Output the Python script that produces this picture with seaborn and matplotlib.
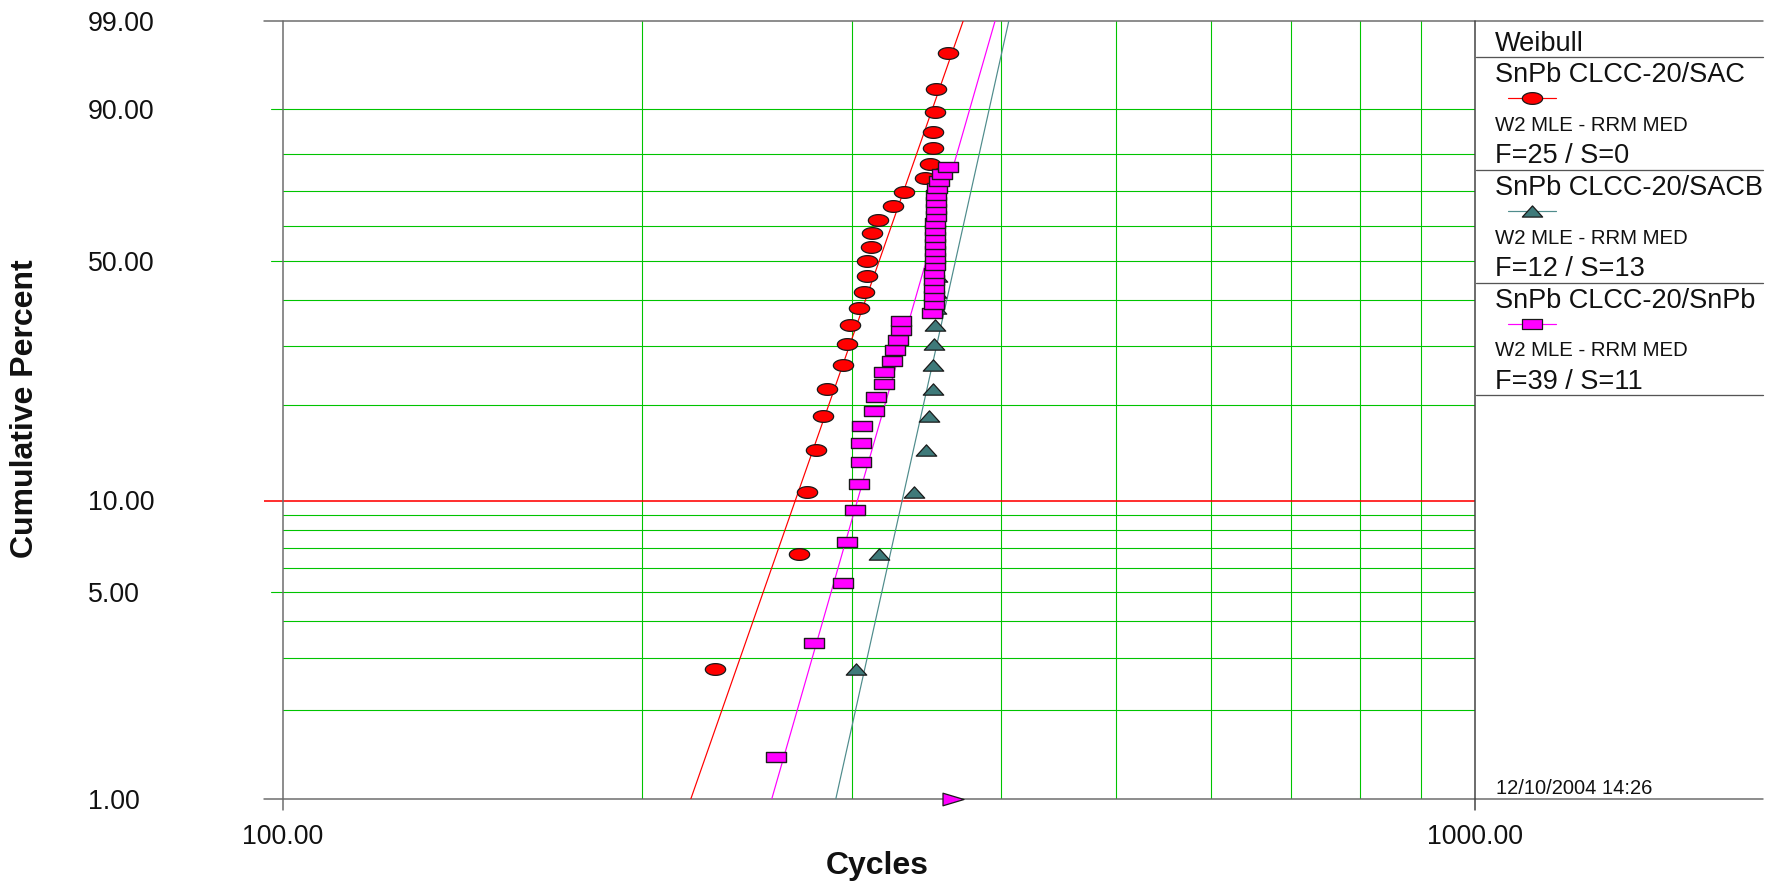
import numpy as np
import matplotlib
matplotlib.use("Agg")
import matplotlib.pyplot as plt
from matplotlib.path import Path
from matplotlib.transforms import blended_transform_factory, offset_copy
import seaborn as sns

# ---------------- data ----------------
sac_cycles = [230.1, 271.1, 275.0, 279.8, 283.9, 286.0, 295.1, 297.1, 299.1, 304.1,
              307.0, 309.1, 309.0, 311.2, 312.1, 315.2, 325.0, 331.8, 345.6, 348.9,
              351.1, 350.9, 352.1, 353.2, 361.0]
sac_pct = [2.76, 6.69, 10.63, 14.57, 18.50, 22.44, 26.38, 30.31, 34.25, 38.19,
           42.13, 46.06, 50.00, 53.94, 57.87, 61.81, 65.75, 69.69, 73.62, 77.56,
           81.50, 85.43, 89.37, 93.31, 97.24]

sacb_cycles = [302.3, 316.3, 338.0, 346.0, 348.3, 350.9, 351.1, 351.8, 352.4, 352.6,
               353.0, 353.4]
sacb_pct = [2.76, 6.69, 10.63, 14.57, 18.50, 22.44, 26.38, 30.31, 34.25, 38.19,
            42.13, 46.06]

snpb_cycles = [259.2, 278.9, 295.1, 297.1, 302.0, 304.2, 305.2, 305.2, 306.1, 313.2,
               314.2, 319.3, 319.3, 324.0, 326.1, 328.2, 329.9, 329.9, 350.0, 351.3,
               351.3, 351.3, 351.3, 351.3, 352.1, 352.3, 352.3, 352.3, 352.3, 352.3,
               352.5, 353.0, 353.0, 353.0, 353.2, 353.7, 354.8, 357.1, 361.0]
snpb_pct = [1.39, 3.37, 5.36, 7.34, 9.33, 11.31, 13.29, 15.28, 17.26, 19.25,
            21.23, 23.21, 25.20, 27.18, 29.17, 31.15, 33.13, 35.12, 37.10, 39.09,
            41.07, 43.06, 45.04, 47.02, 49.01, 50.99, 52.98, 54.96, 56.94, 58.93,
            60.91, 62.90, 64.88, 66.87, 68.85, 70.83, 72.82, 74.80, 76.79]
snpb_susp_cycles = [365.0]
snpb_susp_pct = [1.0]

# Weibull fits (eta, beta)
fit_names = ["SnPb CLCC-20/SAC", "SnPb CLCC-20/SACB", "SnPb CLCC-20/SnPb"]
fit_eta = [326.2, 373.7, 355.2]
fit_beta = [11.65, 18.34, 14.21]
fit_counts = ["F=25 / S=0", "F=12 / S=13", "F=39 / S=11"]
fit_method = "W2 MLE - RRM MED"

y_label_ticks = [1, 5, 10, 50, 90, 99]
y_tick_labels = ["1.00", "5.00", "10.00", "50.00", "90.00", "99.00"]
y_minor_grid = [2, 3, 4, 6, 7, 8, 9, 20, 30, 40, 60, 70, 80]
y_major_grid = [5, 50, 90]
x_grid = [200, 300, 400, 500, 600, 700, 800, 900]
x_ticks = [100, 1000]
x_tick_labels = ["100.00", "1000.00"]

# ---------------- style ----------------
sns.set_style("white")
plt.rcParams["font.family"] = ["Liberation Sans", "DejaVu Sans"]

RED = "#ff0000"
MAG = "#ff00ff"
TEAL_M = "#3f7a7a"
TEAL_L = "#4f8c8c"
GREEN = "#00c400"
GRAY = "#6a6a6a"
EDGE = "#1a1a1a"

W, H = 1781, 886
L, R, T, B = 283.0, 1475.4, 21.0, 799.0
fig = plt.figure(figsize=(W / 100, H / 100), dpi=100)
ax = fig.add_axes([L / W, 1 - B / H, (R - L) / W, (B - T) / H])
ov = fig.add_axes([0, 0, 1, 1])
ov.set_xlim(0, W)
ov.set_ylim(H, 0)
ov.axis("off")
ov.set_zorder(0)
ax.set_zorder(1)
ax.patch.set_visible(False)


def fwd(p):
    p = np.clip(np.asarray(p, dtype=float), 1e-9, 100 - 1e-9)
    return np.log(-np.log(1 - p / 100.0))


def inv(u):
    return 100.0 * (1 - np.exp(-np.exp(np.asarray(u, dtype=float))))


ax.set_xscale("log")
ax.set_yscale("function", functions=(fwd, inv))
ax.set_xlim(100, 1000)
ax.set_ylim(1, 99)
for s in ax.spines.values():
    s.set_visible(False)
ax.set_xticks([])
ax.set_yticks([])
ax.xaxis.set_minor_locator(matplotlib.ticker.NullLocator())
ax.yaxis.set_minor_locator(matplotlib.ticker.NullLocator())

# ---------------- markers ----------------
t = np.linspace(0, 2 * np.pi, 48)
ellipse = Path(np.c_[np.cos(t), 0.58 * np.sin(t)], closed=True)
rect = Path([(-1, -0.54), (1, -0.54), (1, 0.54), (-1, 0.54), (-1, -0.54)], closed=True)
tri_up = Path([(-1, -0.55), (1, -0.55), (0, 0.55), (-1, -0.55)], closed=True)
tri_right = Path([(-1, -0.6), (1, 0), (-1, 0.6), (-1, -0.6)], closed=True)

px = 0.72  # points per pixel at dpi 100
S_MARK = (20.3 * px) ** 2

# ---------------- grid ----------------
glw = 1.1 * px
span_x = R - L
span_y = B - T
for p in y_minor_grid + y_major_grid:
    ax.axhline(p, color=GREEN, lw=glw, zorder=0.5)
for p in y_major_grid:
    ax.axhline(p, xmin=-12 / span_x, xmax=0, color=GREEN, lw=glw, clip_on=False, zorder=0.5)
for c in x_grid:
    ax.axvline(c, color=GREEN, lw=glw, zorder=0.5)
ax.axhline(10, xmin=-19 / span_x, xmax=1, color=RED, lw=1.6 * px, clip_on=False,
           zorder=0.7, solid_capstyle="butt")
for p in (1, 99):
    ax.axhline(p, xmin=-19 / span_x, xmax=(1763 - L) / span_x, color=GRAY, lw=1.5 * px,
               clip_on=False, zorder=0.8)
for c in x_ticks:
    ax.axvline(c, ymin=-11 / span_y, ymax=1, color=GRAY if c == 100 else "#404040",
               lw=1.5 * px, clip_on=False, zorder=0.8)

# ---------------- fit lines ----------------
colors_line = [RED, TEAL_L, MAG]
pgrid = np.linspace(1, 99, 300)
for eta, beta, col in zip(fit_eta, fit_beta, colors_line):
    xs = eta * (-np.log(1 - pgrid / 100.0)) ** (1.0 / beta)
    sns.lineplot(x=xs, y=pgrid, sort=False, estimator=None, color=col, lw=1.2 * px,
                 ax=ax, zorder=1.5)

# ---------------- points ----------------
sns.scatterplot(x=sac_cycles, y=sac_pct, marker=ellipse, s=S_MARK, color=RED,
                edgecolor=EDGE, linewidth=0.9, ax=ax, zorder=3)
sns.scatterplot(x=sacb_cycles, y=sacb_pct, marker=tri_up, s=(20.5 * px) ** 2, color=TEAL_M,
                edgecolor=EDGE, linewidth=0.9, ax=ax, zorder=3.1)
sns.scatterplot(x=snpb_cycles, y=snpb_pct, marker=rect, s=(19.5 * px) ** 2, color=MAG,
                edgecolor=EDGE, linewidth=1.0, ax=ax, zorder=3.2)
sns.scatterplot(x=snpb_susp_cycles, y=snpb_susp_pct, marker=tri_right, s=(21 * px) ** 2,
                color=MAG, edgecolor=EDGE, linewidth=0.9, ax=ax, zorder=3.3,
                clip_on=False)

ax.set_xlim(100, 1000)
ax.set_ylim(1, 99)
ax.set_xlabel("")
ax.set_ylabel("")

# ---------------- tick labels ----------------
fs_tick = 19.3
ty = blended_transform_factory(fig.transFigure, ax.transData)
ty = offset_copy(ty, fig=fig, y=-0.358 * fs_tick, units="points")
for p, lab in zip(y_label_ticks, y_tick_labels):
    ax.text(88 / W, p, lab, transform=ty, ha="left", va="baseline", fontsize=fs_tick,
            color="#111111")
tx = blended_transform_factory(ax.transData, fig.transFigure)
for c, lab in zip(x_ticks, x_tick_labels):
    ax.text(c, 1 - 844.5 / H, lab, transform=tx, ha="center", va="baseline",
            fontsize=fs_tick, color="#111111")

ov.text(25, 409, "Cumulative Percent", rotation=90, ha="center", va="center",
        fontsize=23, fontweight="bold", color="#111111")
ov.text(877, 866, "Cycles", ha="center", va="center", fontsize=23, fontweight="bold",
        color="#111111")
ov.text(1496, 788, "12/10/2004 14:26", ha="left", va="center", fontsize=14.5,
        color="#111111")

# ---------------- legend panel ----------------
LX0, LX1, TX = 1476, 1763, 1495
ov.text(TX, 44, "Weibull", ha="left", va="center", fontsize=19.5, color="#111111")
sep_y = [57, 170, 283, 395]
for y in sep_y:
    ov.plot([LX0, LX1], [y, y], color="#555555", lw=1.3 * px)
markers_leg = [ellipse, tri_up, rect]
face_leg = [RED, TEAL_M, MAG]
for i, (name, cnt) in enumerate(zip(fit_names, fit_counts)):
    y0 = sep_y[i]
    ov.text(TX, y0 + 18, name, ha="left", va="center", fontsize=19.5, color="#111111")
    ov.plot([1508, 1556], [y0 + 41, y0 + 41], color=colors_line[i], lw=1.2 * px)
    ov.scatter([1532], [y0 + 41], marker=markers_leg[i], s=S_MARK, color=face_leg[i],
               edgecolor=EDGE, linewidth=0.9, zorder=3)
    ov.text(TX, y0 + 68, fit_method, ha="left", va="center", fontsize=14.7,
            color="#111111")
    ov.text(TX, y0 + 99, cnt, ha="left", va="center", fontsize=19.5, color="#111111")

fig.savefig("out.png", dpi=100)
